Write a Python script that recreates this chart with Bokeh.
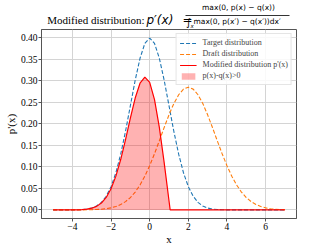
from bokeh.plotting import figure
from bokeh.models import (ColumnDataSource, Range1d, FixedTicker, NumeralTickFormatter,
                          CustomJSTickFormatter, Legend, LegendItem)
from bokeh.layouts import column
from bokeh.core.properties import value
from bokeh.embed import file_html
from bokeh.resources import INLINE

# ---------------- data ----------------
x_vals = [-5.0, -4.75, -4.5, -4.25, -4.0, -3.75, -3.5, -3.25, -3.0, -2.75, -2.5, -2.25,
          -2.0, -1.75, -1.5, -1.25, -1.0, -0.75, -0.5, -0.25, 0.0, 0.25, 0.5, 0.75,
          1.0, 1.06, 1.25, 1.5, 1.75, 2.0, 2.25, 2.5, 2.75, 3.0, 3.25, 3.5, 3.75, 4.0,
          4.25, 4.5, 4.75, 5.0, 5.25, 5.5, 5.75, 6.0, 6.25, 6.5, 6.75, 7.0]

target_vals = [0.000001, 0.000005, 0.000016, 0.000048, 0.000134, 0.000353, 0.000873,
               0.002029, 0.004432, 0.009094, 0.017528, 0.031740, 0.053991, 0.086277,
               0.129518, 0.182649, 0.241971, 0.301137, 0.352065, 0.386668, 0.398942,
               0.386668, 0.352065, 0.301137, 0.241971, 0.227500, 0.182649, 0.129518,
               0.086277, 0.053991, 0.031740, 0.017528, 0.009094, 0.004432, 0.002029,
               0.000873, 0.000353, 0.000134, 0.000048, 0.000016, 0.000005, 0.000001,
               0.0, 0.0, 0.0, 0.0, 0.0, 0.0, 0.0, 0.0]

draft_vals = [0.000001, 0.000003, 0.000006, 0.000013, 0.000029, 0.000062, 0.000127,
              0.000252, 0.000484, 0.000902, 0.001627, 0.002842, 0.004808, 0.007885,
              0.012521, 0.019258, 0.028684, 0.041402, 0.057864, 0.078327, 0.102714,
              0.130462, 0.160509, 0.191276, 0.220783, 0.227460, 0.246866, 0.267351,
              0.280451, 0.284959, 0.280451, 0.267351, 0.246866, 0.220783, 0.191276,
              0.160509, 0.130462, 0.102714, 0.078327, 0.057864, 0.041402, 0.028684,
              0.019258, 0.012521, 0.007885, 0.004808, 0.002842, 0.001627, 0.000902,
              0.000484]

modified_vals = [0.0, 0.000002, 0.000010, 0.000035, 0.000105, 0.000291, 0.000746,
                 0.001777, 0.003948, 0.008192, 0.015901, 0.028898, 0.049183, 0.078392,
                 0.116997, 0.163391, 0.213287, 0.259735, 0.294201, 0.308341, 0.296228,
                 0.256206, 0.191556, 0.109861, 0.021188, 0.0, 0.0, 0.0, 0.0, 0.0, 0.0,
                 0.0, 0.0, 0.0, 0.0, 0.0, 0.0, 0.0, 0.0, 0.0, 0.0, 0.0, 0.0, 0.0, 0.0,
                 0.0, 0.0, 0.0, 0.0, 0.0]

x_ticks = [-4, -2, 0, 2, 4, 6]
y_ticks = [0.0, 0.05, 0.10, 0.15, 0.20, 0.25, 0.30, 0.35, 0.40]

legend_labels = ["Target distribution", "Draft distribution",
                 "Modified distribution p'(x)", "p(x)-q(x)>0"]

title_text = "Modified distribution:"
title_math = "p\u2032(x)"
numerator_text = "max(0, p(x) \u2212 q(x))"
denominator_text = "max(0, p(x\u2032) \u2212 q(x\u2032))dx\u2032"

SERIF = "Liberation Serif"
SANS = "DejaVu Sans"

W = 329
TH = 28
LB, RB = 41, 33   # same side borders for both strips, so their frames line up

# ---------------- title strip (page-pixel coordinates) ----------------
t = figure(width=W, height=TH, x_range=Range1d(LB, W - RB), y_range=Range1d(0, TH),
           toolbar_location=None, output_backend="svg",
           min_border_left=LB, min_border_right=RB, min_border_top=0, min_border_bottom=0,
           x_axis_location=None, y_axis_location=None)
t.grid.visible = False
t.outline_line_color = None

t.text(x=[46.7], y=[8.7], text=[title_text], text_font=value(SERIF),
       text_font_size=value("11px"), text_baseline="alphabetic", text_align="left",
       text_color="black")
t.text(x=[146], y=[8.7], text=[title_math], text_font=value(SANS),
       text_font_style="italic", text_font_size=value("12px"),
       text_baseline="alphabetic", text_align="left", text_color="black")
t.text(x=[182], y=[8.7], text=["="], text_font=value(SANS),
       text_font_size=value("12px"), text_baseline="alphabetic", text_align="left",
       text_color="black")
t.text(x=[238], y=[20.8], text=[numerator_text], text_font=value(SANS),
       text_font_size=value("7.5px"), text_baseline="middle", text_align="center",
       text_color="black")
t.segment(x0=[185], y0=[13], x1=[289], y1=[13], line_color="black", line_width=0.8)
t.text(x=[185.5], y=[6.5], text=["\u222b"], text_font=value(SANS),
       text_font_size=value("10px"), text_baseline="middle", text_align="left",
       text_color="black")
t.text(x=[190], y=[2.8], text=["x"], text_font=value(SANS), text_font_style="italic",
       text_font_size=value("5.5px"), text_baseline="middle", text_align="left",
       text_color="black")
t.text(x=[193], y=[6.6], text=[denominator_text], text_font=value(SANS),
       text_font_size=value("7.5px"), text_baseline="middle", text_align="left",
       text_color="black")

# ---------------- main figure ----------------
src = ColumnDataSource(dict(x=x_vals, target=target_vals, draft=draft_vals,
                            modified=modified_vals, zero=[0.0] * len(x_vals)))

p = figure(width=W, height=247 - TH, x_range=Range1d(-5.6, 7.6),
           y_range=Range1d(-0.01995, 0.41889), toolbar_location=None,
           output_backend="svg", min_border_left=LB, min_border_right=RB,
           min_border_top=1, min_border_bottom=27)

r_t = p.line("x", "target", source=src, line_color="#1f77b4", line_width=1.1,
             line_dash="4 2")
r_d = p.line("x", "draft", source=src, line_color="#ff7f0e", line_width=1.1,
             line_dash="4 2")
r_m = p.line("x", "modified", source=src, line_color="#ff0000", line_width=1.2)
r_f = p.varea(x="x", y1="zero", y2="modified", source=src, fill_color="#ff0000",
              fill_alpha=0.3)

p.xaxis.ticker = FixedTicker(ticks=x_ticks)
p.yaxis.ticker = FixedTicker(ticks=y_ticks)
p.yaxis.formatter = NumeralTickFormatter(format="0.00")
p.xaxis.formatter = CustomJSTickFormatter(
    code="return tick < 0 ? '\\u2212' + Math.abs(tick) : tick.toString();")

p.xaxis.axis_label = "x"
p.yaxis.axis_label = "p'(x)"

for ax in (p.xaxis, p.yaxis):
    ax.major_label_text_font = SERIF
    ax.major_label_text_font_size = "9.5px"
    ax.major_label_text_color = "black"
    ax.major_label_standoff = 1
    ax.major_tick_out = 3
    ax.major_tick_in = 0
    ax.minor_tick_out = 0
    ax.minor_tick_in = 0
    ax.axis_line_color = "#555555"
    ax.major_tick_line_color = "#555555"
    ax.axis_label_text_font = SERIF
    ax.axis_label_text_font_size = "11px"
    ax.axis_label_text_font_style = "normal"
    ax.axis_label_text_color = "black"
p.xaxis.axis_label_standoff = 0
p.yaxis.axis_label_standoff = 1

p.grid.grid_line_color = "#d4d4d4"
p.grid.grid_line_width = 1
p.outline_line_color = "#555555"
p.outline_line_width = 1

legend = Legend(items=[LegendItem(label=legend_labels[0], renderers=[r_t]),
                       LegendItem(label=legend_labels[1], renderers=[r_d]),
                       LegendItem(label=legend_labels[2], renderers=[r_m]),
                       LegendItem(label=legend_labels[3], renderers=[r_f])],
                location="top_right")
legend.label_text_font = SERIF
legend.label_text_font_size = "8px"
legend.label_height = 11
legend.glyph_height = 8
legend.glyph_width = 17
legend.label_standoff = 6
legend.spacing = 0
legend.padding = 3
legend.margin = 4
legend.border_line_color = "#cccccc"
legend.border_line_width = 1
legend.background_fill_alpha = 0.85
p.add_layout(legend)

layout = column(t, p, spacing=0)
open("out.html", "w").write(file_html(layout, INLINE))
